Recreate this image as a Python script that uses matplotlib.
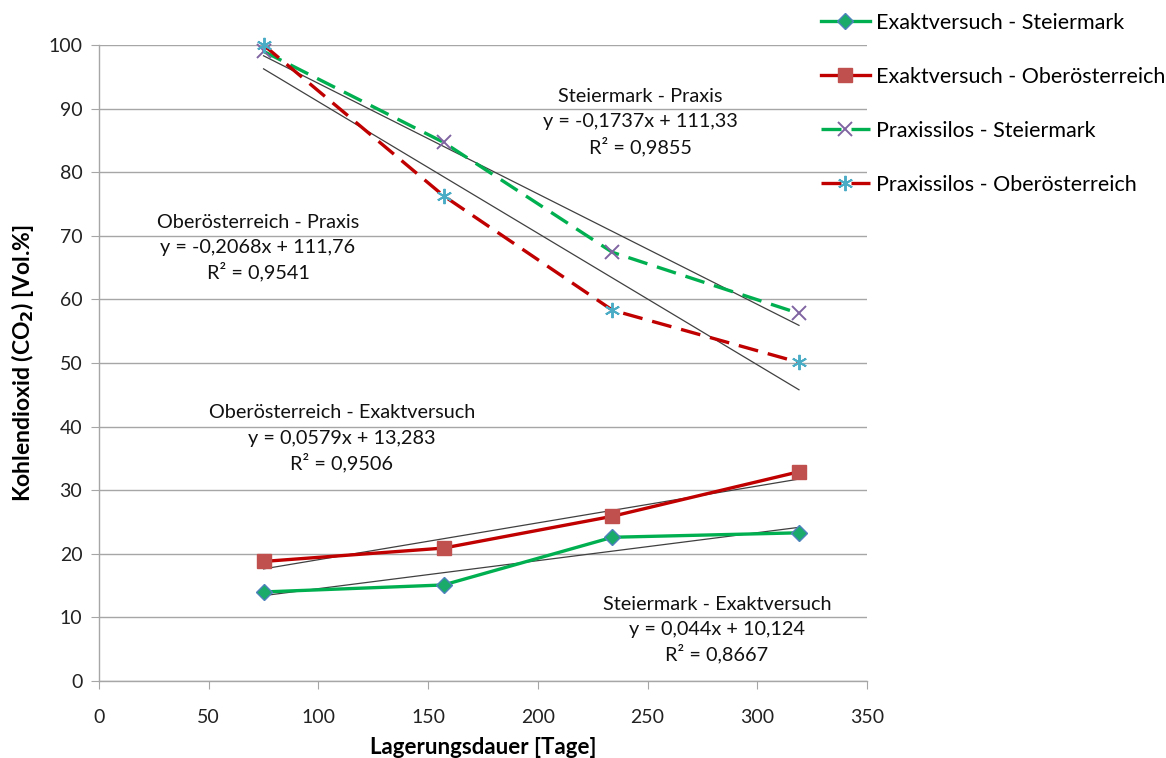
import matplotlib
matplotlib.use("Agg")
import matplotlib.pyplot as plt
import numpy as np

# ---- data ----
days = [75, 157, 234, 319]
exakt_steiermark = [14.0, 15.1, 22.6, 23.3]
exakt_ooe = [18.8, 20.9, 25.9, 32.9]
praxis_steiermark = [99.0, 84.7, 67.4, 57.8]
praxis_ooe = [100.0, 76.3, 58.3, 50.1]

labels = ["Exaktversuch - Steiermark", "Exaktversuch - Oberösterreich",
          "Praxissilos - Steiermark", "Praxissilos - Oberösterreich"]

trend_slopes = [0.044, 0.0579, -0.1737, -0.2068]
trend_intercepts = [10.124, 13.283, 111.33, 111.76]

annot_titles = ["Steiermark - Exaktversuch", "Oberösterreich - Exaktversuch",
                "Steiermark - Praxis", "Oberösterreich - Praxis"]
annot_eq = ["y = 0,044x + 10,124", "y = 0,0579x + 13,283",
            "y = -0,1737x + 111,33", "y = -0,2068x + 111,76"]
annot_r2 = ["R² = 0,8667", "R² = 0,9506", "R² = 0,9855", "R² = 0,9541"]

xticks = [0, 50, 100, 150, 200, 250, 300, 350]
yticks = [0, 10, 20, 30, 40, 50, 60, 70, 80, 90, 100]

FONT = ["Lato", "DejaVu Sans"]
plt.rcParams['font.family'] = FONT

W, H = 1166, 758
fig = plt.figure(figsize=(W / 100, H / 100), dpi=100)
ax = fig.add_axes([99 / W, 1 - 681 / H, (867 - 99) / W, (681 - 45) / H])

green = "#00B050"
red = "#C00000"

ax.set_xlim(0, 350)
ax.set_ylim(0, 100)
ax.set_xticks(xticks)
ax.set_yticks(yticks)
ax.grid(axis='y', color="#A6A6A6", linewidth=1)
ax.set_axisbelow(True)
for s in ["top", "right"]:
    ax.spines[s].set_visible(False)
for s in ["left", "bottom"]:
    ax.spines[s].set_color("#A6A6A6")
    ax.spines[s].set_linewidth(1)
ax.tick_params(axis='both', direction='out', length=6, color="#A6A6A6",
               labelsize=14, labelcolor="#222222")
ax.tick_params(axis='y', pad=6)
ax.tick_params(axis='x', pad=14)

# trend lines
xt = np.array([days[0], days[-1]], dtype=float)
for m, b in zip(trend_slopes, trend_intercepts):
    ax.plot(xt, m * xt + b, color="#404040", linewidth=0.9, zorder=3)

dash = (0, (6, 3))
l1, = ax.plot(days, exakt_steiermark, color=green, linewidth=2.4, marker='D',
              markersize=8, markerfacecolor="#1AAA6A", markeredgecolor="#4F81BD",
              markeredgewidth=1, zorder=4, clip_on=False, label=labels[0])
l2, = ax.plot(days, exakt_ooe, color=red, linewidth=2.4, marker='s',
              markersize=10, markerfacecolor="#C0504D", markeredgecolor="#C0504D",
              zorder=4, clip_on=False, label=labels[1])
l3, = ax.plot(days, praxis_steiermark, color=green, linewidth=2.4, linestyle=dash,
              marker='x', markersize=10, markeredgecolor="#8064A2", markeredgewidth=1.4,
              zorder=4, clip_on=False, label=labels[2])
l4, = ax.plot(days, praxis_ooe, color=red, linewidth=2.4, linestyle=dash,
              marker=(6, 2, 0), markersize=11, markeredgecolor="#4BACC6", markeredgewidth=1.4,
              zorder=4, clip_on=False, label=labels[3])

# annotations (pixel centers from reference)
annot_pos = [(717, 604), (342, 413), (640, 97), (258, 222)]
for (px, py), t, e, r in zip(annot_pos, annot_titles, annot_eq, annot_r2):
    for k, s in enumerate([t, e, r]):
        fig.text(px / W, 1 - (py + 25 * k) / H, s, ha='center', va='center',
                 fontsize=14.3, color="#111111")

ax.set_xlabel("Lagerungsdauer [Tage]", fontsize=16, fontweight='bold', labelpad=8)
ax.set_ylabel(r"Kohlendioxid (CO$_\mathbf{2}$) [Vol.%]", fontsize=16.5,
              fontweight='bold', labelpad=9)

leg = fig.legend(handles=[l1, l2, l3, l4], loc='upper left',
                 bbox_to_anchor=(812 / W, 1 - 4 / H), frameon=False,
                 fontsize=15.5, labelspacing=1.58, handlelength=2.3,
                 handletextpad=0.25, borderaxespad=0)

fig.savefig("out.png", dpi=100)
